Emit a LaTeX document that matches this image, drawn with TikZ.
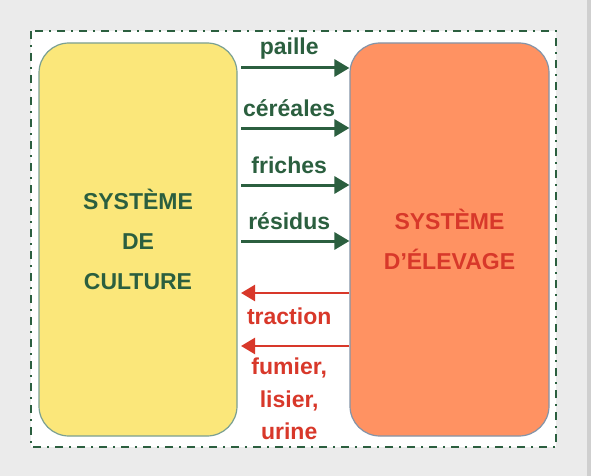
\documentclass[tikz,border=0pt]{standalone}
\usepackage{fontspec}
\setmainfont{Liberation Sans}
\usetikzlibrary{arrows.meta,positioning}
\definecolor{vert}{HTML}{2B5F3F}
\definecolor{rouge}{HTML}{D8382A}
\definecolor{jaune}{HTML}{FBE77A}
\definecolor{orange}{HTML}{FF9262}
\definecolor{fond}{HTML}{EBEBEB}
\definecolor{bordj}{HTML}{7AA092}
\definecolor{bordo}{HTML}{8494A8}

\begin{document}
\begin{tikzpicture}[x=1pt, y=-1pt, every node/.style={font=\fontsize{23}{40}\selectfont\bfseries}, sys/.style={rounded corners=30pt,minimum width=198pt,minimum height=393pt,align=center,line width=1.2pt,inner sep=0pt}, garr/.style={-{Triangle[length=15pt,width=17pt]},line width=3pt,draw=vert}, rarr/.style={-{Triangle[length=14pt,width=16pt]},line width=2.5pt,draw=rouge}, lab/.style={midway,anchor=base,xshift=-6pt,inner sep=0pt}]
% fond et cadre
\fill[fond] (0,0) rectangle (591,476);
\fill[fond!88!black] (587,0) rectangle (591,476);
\draw[vert, fill=white, line width=2.5pt, dash pattern=on 8pt off 6pt on 2pt off 6pt] (31,31) rectangle (556,447);
% les deux systemes
\node[sys, draw=bordj, fill=jaune, text=vert] (culture) at (138,239.5) {SYSTÈME\\DE\\CULTURE};
\node[sys, draw=bordo, fill=orange, text=rouge, minimum width=199pt] (elevage) at (449.5,239.5) {SYSTÈME\\D’ÉLEVAGE};
% flux culture -> elevage
\coordinate (g1) at (241,68);
\coordinate (g2) at (241,128);
\coordinate (g3) at (241,185);
\coordinate (g4) at (241,241);
\draw[garr] (g1) -- (elevage.west |- g1) node[lab, yshift=13pt, text=vert] {paille};
\draw[garr] (g2) -- (elevage.west |- g2) node[lab, yshift=11pt, text=vert] {céréales};
\draw[garr] (g3) -- (elevage.west |- g3) node[lab, yshift=12pt, text=vert] {friches};
\draw[garr] (g4) -- (elevage.west |- g4) node[lab, yshift=12pt, text=vert] {résidus};
% flux elevage -> culture
\coordinate (r1) at (241,293);
\coordinate (r2) at (241,346);
\draw[rarr] (elevage.west |- r1) -- (r1) node[lab, yshift=-31pt, text=rouge] {traction};
\draw[rarr] (elevage.west |- r2) -- (r2) node[lab, anchor=north, yshift=-11pt, align=center, text=rouge, font=\fontsize{23}{32.5}\selectfont\bfseries] {fumier,\\lisier,\\urine};
\end{tikzpicture}
\end{document}
